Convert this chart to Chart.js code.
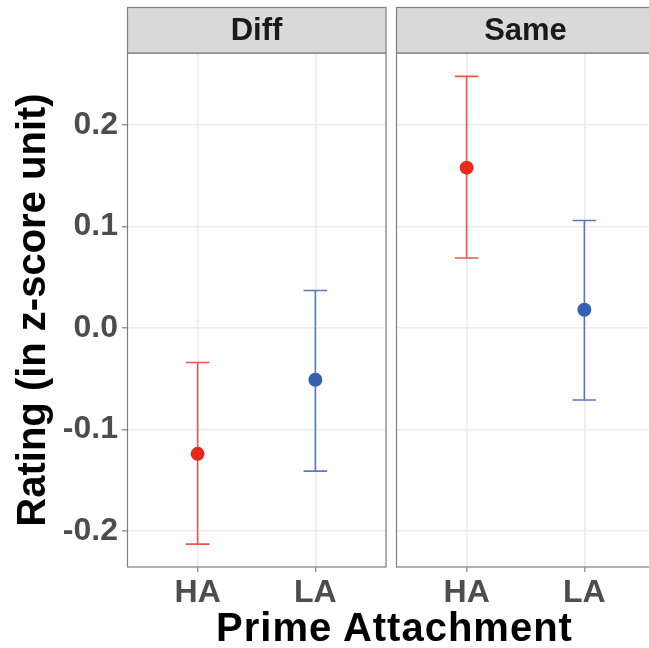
<!DOCTYPE html>
<html>
<head>
<meta charset="utf-8">
<script src="https://cdn.jsdelivr.net/npm/chart.js@4/dist/chart.umd.min.js"></script>
<style>
  html, body { margin: 0; padding: 0; background: #ffffff; }
  #wrap { position: relative; width: 649px; height: 648px; overflow: hidden; }
  #c1 { position: absolute; left: 0; top: 0; }
  #c2 { position: absolute; left: 390px; top: 0; }
  #xtitle { position: absolute; left: 135px; width: 519px; top: 604px; text-align: center;
            font: bold 40px "Liberation Sans", Arial, sans-serif; color: #000; line-height: 46px;
            letter-spacing: 1px; white-space: nowrap; }
</style>
</head>
<body>
<div id="wrap">
  <canvas id="c1" width="390" height="648"></canvas>
  <canvas id="c2" width="265" height="648"></canvas>
  <div id="xtitle">Prime Attachment</div>
</div>
<script>
// ---- data ----
const categories = ['HA', 'LA'];
const panels = ['Diff', 'Same'];
const diffMean = [-0.124, -0.051];
const diffLow  = [-0.213, -0.141];
const diffHigh = [-0.034, 0.037];
const sameMean = [0.158, 0.018];
const sameLow  = [0.069, -0.071];
const sameHigh = [0.248, 0.106];
const yTicks = [-0.2, -0.1, 0.0, 0.1, 0.2];
const yTitle = 'Rating (in z-score unit)';
const xTitle = 'Prime Attachment';

const pointColors = ['#E8291C', '#3460B2'];
const barColors = ['#EE5448', '#5878C0'];
const FONT = '"Liberation Sans", Arial, sans-serif';

function makeData(means, lows, highs) {
  return {
    datasets: [{
      data: means.map((m, i) => ({ x: i, y: m, lo: lows[i], hi: highs[i] })),
      pointRadius: 7,
      pointHoverRadius: 7,
      pointBackgroundColor: pointColors,
      pointBorderColor: pointColors,
      pointBorderWidth: 0,
      showLine: false
    }]
  };
}

const errorBars = {
  id: 'errorBars',
  beforeDatasetsDraw(chart) {
    const ctx = chart.ctx;
    const xs = chart.scales.x, ys = chart.scales.y;
    ctx.save();
    ctx.lineWidth = 1.6;
    chart.data.datasets[0].data.forEach((d, i) => {
      const px = xs.getPixelForValue(d.x);
      const pl = ys.getPixelForValue(d.lo);
      const ph = ys.getPixelForValue(d.hi);
      const half = xs.getPixelForValue(d.x + 0.1) - px;
      ctx.strokeStyle = barColors[i];
      ctx.beginPath();
      ctx.moveTo(px, pl); ctx.lineTo(px, ph);
      ctx.moveTo(px - half, pl); ctx.lineTo(px + half, pl);
      ctx.moveTo(px - half, ph); ctx.lineTo(px + half, ph);
      ctx.stroke();
    });
    ctx.restore();
  }
};

const panelDeco = {
  id: 'panelDeco',
  afterDraw(chart, args, opts) {
    const ctx = chart.ctx;
    const a = chart.chartArea;
    ctx.save();
    // panel border
    ctx.strokeStyle = '#7F7F7F';
    ctx.lineWidth = 1.2;
    ctx.strokeRect(a.left + 0.5, a.top, a.right - a.left - 0.5, a.bottom - a.top);
    // strip
    const sTop = 7, sBot = a.top;
    ctx.fillStyle = '#D9D9D9';
    ctx.fillRect(a.left, sTop, a.right - a.left, sBot - sTop);
    ctx.strokeRect(a.left + 0.5, sTop + 0.5, a.right - a.left - 0.5, sBot - sTop - 0.5);
    ctx.fillStyle = '#1A1A1A';
    ctx.font = 'bold 31px ' + FONT;
    ctx.textAlign = 'center';
    ctx.textBaseline = 'middle';
    ctx.fillText(opts.label, (a.left + a.right) / 2, (sTop + sBot) / 2 + 1);
    ctx.restore();
  }
};

function makeOptions(isLeft, label) {
  return {
    responsive: false,
    animation: false,
    events: [],
    layout: { autoPadding: false, padding: { top: 53, bottom: 0, left: isLeft ? 0 : 6, right: isLeft ? 4 : 0 } },
    plugins: {
      legend: { display: false },
      tooltip: { enabled: false },
      panelDeco: { label: label }
    },
    scales: {
      x: {
        type: 'linear',
        min: -0.6, max: 1.6,
        afterBuildTicks: (s) => { s.ticks = categories.map((c, i) => ({ value: i })); },
        afterFit: (s) => { s.height = 81; s.paddingLeft = 0; s.paddingRight = 0; },
        ticks: {
          callback: (v) => categories[v],
          color: '#4D4D4D',
          font: { family: FONT, size: 32, weight: 'bold' },
          padding: 2,
          maxRotation: 0, autoSkip: false
        },
        grid: { color: '#EBEBEB', lineWidth: 1.6, tickLength: 5, tickColor: '#7F7F7F', tickWidth: 1.2 },
        border: { display: false }
      },
      y: {
        type: 'linear',
        min: -0.2355, max: 0.271,
        afterBuildTicks: (s) => { s.ticks = yTicks.map(v => ({ value: v })); },
        afterFit: (s) => { s.width = isLeft ? 127 : 0; s.paddingTop = 0; s.paddingBottom = 0; },
        ticks: {
          display: isLeft,
          callback: (v) => v.toFixed(1),
          color: '#4D4D4D',
          font: { family: FONT, size: 32, weight: 'bold' },
          padding: 4
        },
        title: {
          display: isLeft,
          text: yTitle,
          color: '#000',
          font: { family: FONT, size: 40, weight: 'bold' },
          padding: { top: 10, bottom: 0 }
        },
        grid: { color: '#EBEBEB', lineWidth: 1.6, tickLength: isLeft ? 5 : 0, tickColor: '#7F7F7F', tickWidth: 1.2 },
        border: { display: false }
      }
    }
  };
}

new Chart(document.getElementById('c1'), {
  type: 'scatter',
  data: makeData(diffMean, diffLow, diffHigh),
  options: makeOptions(true, panels[0]),
  plugins: [errorBars, panelDeco]
});
new Chart(document.getElementById('c2'), {
  type: 'scatter',
  data: makeData(sameMean, sameLow, sameHigh),
  options: makeOptions(false, panels[1]),
  plugins: [errorBars, panelDeco]
});
document.getElementById('xtitle').textContent = xTitle;
</script>
</body>
</html>
